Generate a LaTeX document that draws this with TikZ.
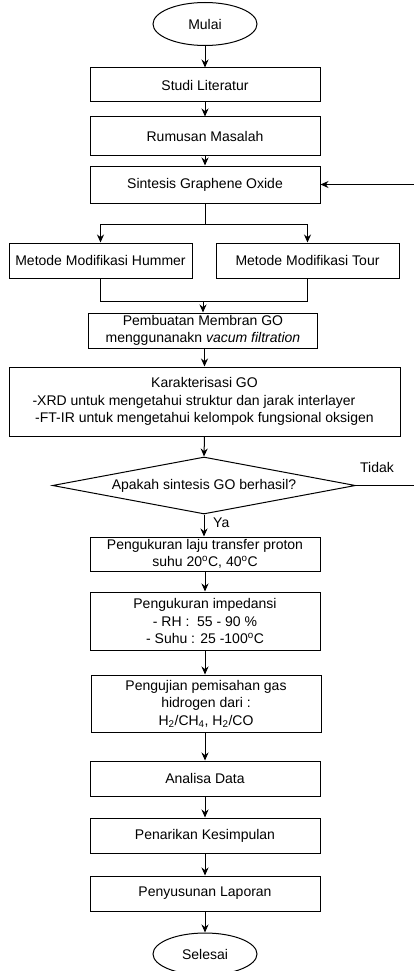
\documentclass[tikz,border=0pt]{standalone}
\usepackage{fontspec}
\setmainfont{Liberation Sans}
\usetikzlibrary{arrows.meta,positioning,shapes.geometric}

\begin{document}
\begin{tikzpicture}[
    x=1pt, y=-1pt,
    box/.style={rectangle, draw, line width=1pt, minimum height=35pt, minimum width=230pt, inner sep=0pt, align=center, font=\fontsize{14}{17.5}\selectfont},
    term/.style={ellipse, draw, line width=1pt, minimum height=43pt, minimum width=104pt, inner sep=0pt, font=\fontsize{14}{17.5}\selectfont},
    decide/.style={diamond, draw, line width=1pt, aspect=5.3, minimum height=57pt, minimum width=303pt, inner sep=0pt, font=\fontsize{14}{17.5}\selectfont},
    lbl/.style={font=\fontsize{14}{17.5}\selectfont, inner sep=0pt},
    arr/.style={-{Stealth[length=8pt,width=7pt]}, line width=1pt},
    ln/.style={line width=1pt}
  ]
    \useasboundingbox (0,0) rectangle (413,971);
    \node[term] (start) at (205,24) {Mulai};
    \node[box, minimum height=34pt] (studi) at (205,85) {Studi Literatur};
    \node[box, minimum height=38pt] (rumus) at (205,136) {Rumusan Masalah};
    \node[box, minimum height=37pt] (sint) at (205,184.5) {Sintesis Graphene Oxide};
    \node[box, minimum width=183pt] (hum) at (100.5,260.5) {Metode Modifikasi Hummer};
    \node[box, minimum width=183pt] (tour) at (307.5,260.5) {Metode Modifikasi Tour};
    \node[box, minimum width=229pt] (pemb) at (203,330.5) {Pembuatan Membran GO\\menggunanakn \textit{vacum filtration}};
    \node[box, minimum width=391pt, minimum height=69pt] (karak) at (204.5,401.5) {Karakterisasi GO\\-XRD untuk mengetahui struktur dan jarak interlayer\rule{21pt}{0pt}\\-FT-IR untuk mengetahui kelompok fungsional oksigen};
    \node[decide] (cek) at (204,485.5) {Apakah sintesis GO berhasil?};
    \node[box, minimum height=34pt] (laju) at (205,554) {Pengukuran laju transfer proton\\suhu 20\textsuperscript{o}C, 40\textsuperscript{o}C};
    \node[box, minimum height=58pt] (imp) at (205,621) {Pengukuran impedansi\\- RH :\ \ 55 - 90 \%\\- Suhu : 25 -100\textsuperscript{o}C};
    \node[box, minimum height=57pt] (uji) at (206,703.5) {Pengujian pemisahan gas\\hidrogen dari :\\H\textsubscript{2}/CH\textsubscript{4}, H\textsubscript{2}/CO};
    \node[box] (anal) at (205,778.5) {Analisa Data};
    \node[box] (tarik) at (205,835.5) {Penarikan Kesimpulan};
    \node[box] (susun) at (205,893.5) {Penyusunan Laporan};
    \node[term, minimum height=42pt] (end) at (205,954) {Selesai};
    \node[lbl, anchor=west] (ya) at (213,523) {Ya};
    \node[lbl] (tidak) at (377,467) {Tidak};
    \coordinate (split) at (205,224);
    \coordinate (merge) at (203,301);
    \coordinate (loopx) at (420,0);
    \draw[arr] (start) -- (studi);
    \draw[arr] (studi) -- (rumus);
    \draw[arr] (rumus) -- (sint);
    \draw[ln] (sint.south) -- (split);
    \draw[arr] (split) -| (hum.north);
    \draw[arr] (split) -| (tour.north);
    \draw[ln] (hum.south) |- (merge);
    \draw[ln] (tour.south) |- (merge);
    \draw[arr] (merge) -- (pemb.north);
    \draw[arr] (pemb.south -| karak.north) -- (karak.north);
    \draw[arr] (karak.south) -- (cek.north);
    \draw[arr] (cek.south) -- (laju.north -| cek.south);
    \draw[arr] (cek.east) -- (cek.east -| loopx) |- (sint.east);
    \draw[arr] (laju) -- (imp);
    \draw[arr] (imp) -- (uji.north -| imp.south);
    \draw[arr] (uji.south -| anal.north) -- (anal);
    \draw[arr] (anal) -- (tarik);
    \draw[arr] (tarik) -- (susun);
    \draw[arr] (susun) -- (end);
  \end{tikzpicture}
\end{document}
